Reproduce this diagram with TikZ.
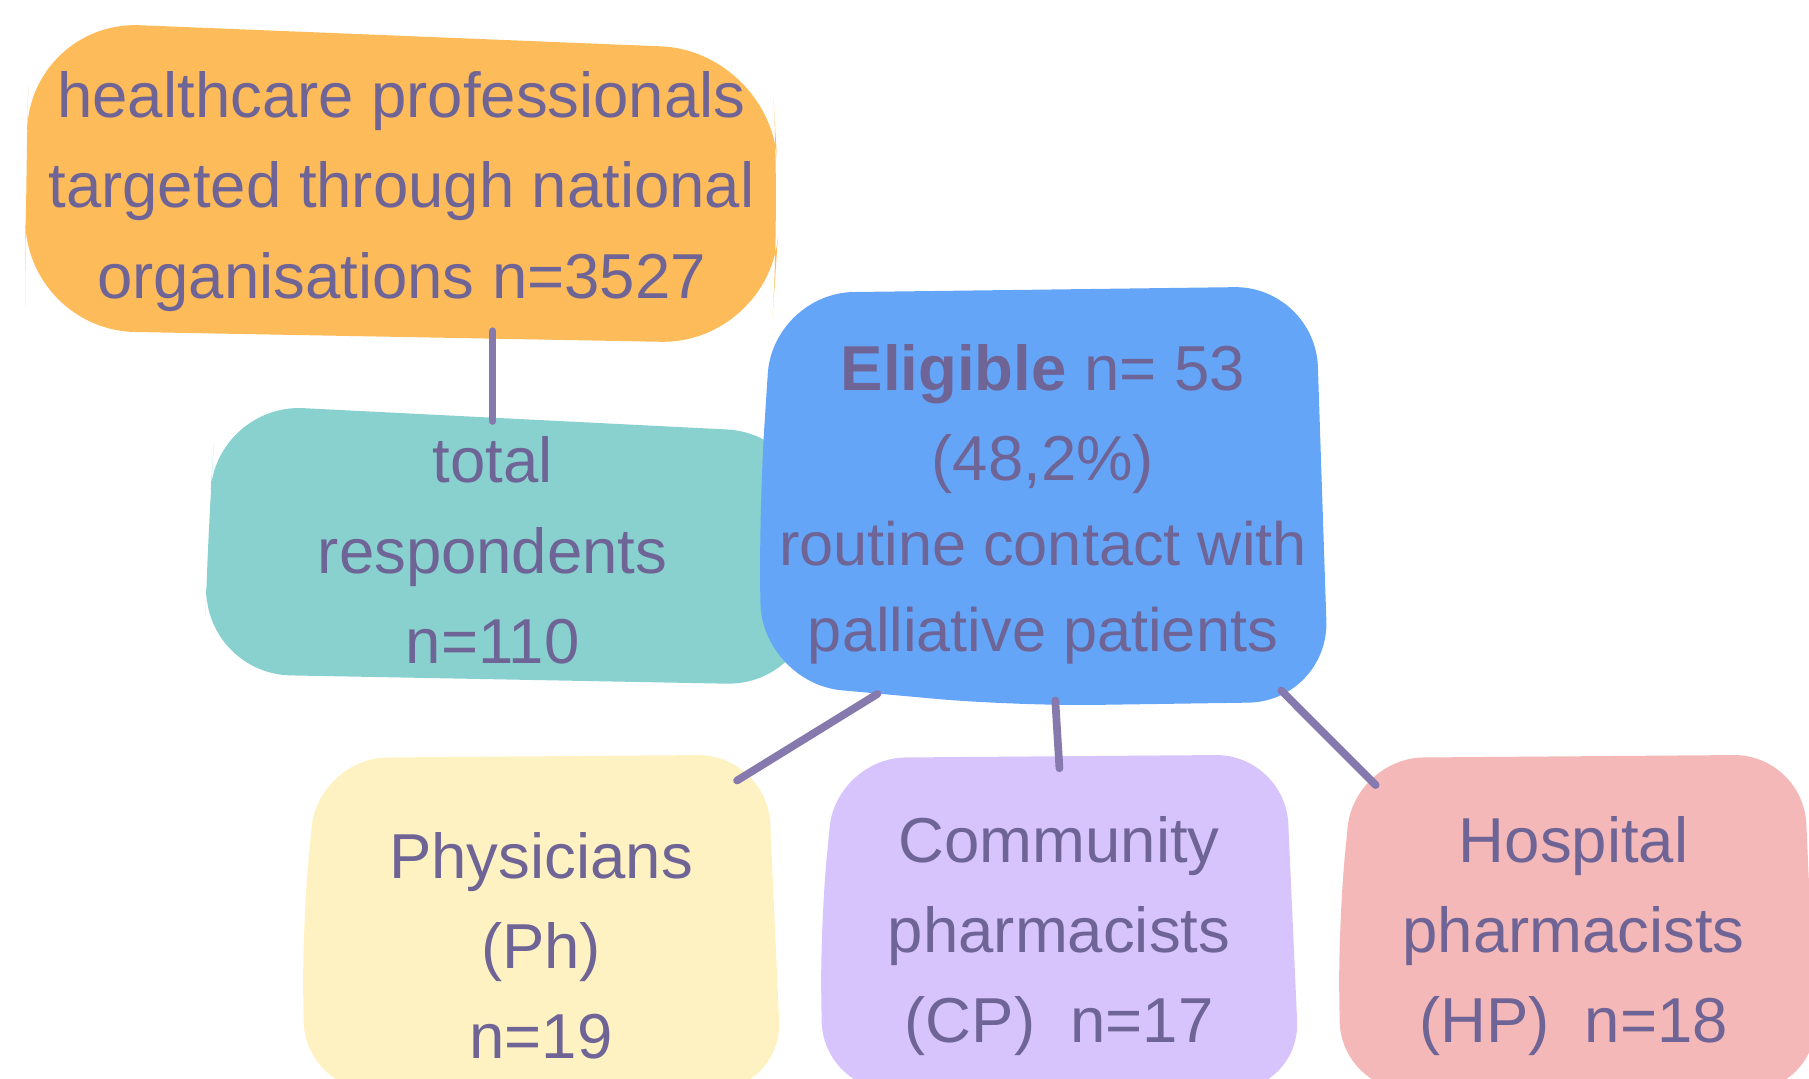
\documentclass[tikz,border=0pt]{standalone}
\usepackage{fontspec}
\setmainfont{Liberation Sans}
\usetikzlibrary{calc}
\definecolor{inkpurple}{HTML}{6E6496}
\definecolor{linkpurple}{HTML}{8579AE}
\definecolor{targetfill}{HTML}{FDBB5A}
\definecolor{respondfill}{HTML}{88D1CE}
\definecolor{eligiblefill}{HTML}{64A5F8}
\definecolor{physfill}{HTML}{FFF2C2}
\definecolor{commfill}{HTML}{D7C4FC}
\definecolor{hospfill}{HTML}{F4B8B8}
\newcommand\boxfont{\fontsize{15.65pt}{22.2pt}\selectfont}
\newcommand\smallerfont{\fontsize{15.1pt}{21pt}\selectfont}
\newcommand\groupblob[2]{%
    % #1: fill colour
    % #2: left x
    \fill[#1,rounded corners=.6cm] ({#2},800) -- ({#2+14},657) -- ({#2+403},654)
        -- ({#2+416},945) -- ({#2+2},945) -- cycle;
}

\begin{document}
\begin{tikzpicture}[
        x=0.01cm,y=-0.01cm,
        boxtext/.style={text=inkpurple,font=\boxfont,align=center,inner sep=0pt,outer sep=0pt},
        connector/.style={draw=linkpurple,line width=1.9pt,line cap=round,
            shorten <=-.05cm,shorten >=-.05cm},
    ]
    \useasboundingbox (0,0) rectangle (1568,935);
    \clip (0,0) rectangle (1568,935);

    % blobs
    \fill[targetfill,rounded corners=.95cm] (22,170) -- (26,18) -- (668,44) -- (676,180)
        -- (668,298) -- (22,286) -- cycle;
    \fill[respondfill,rounded corners=.75cm] (180,460) -- (188,350) -- (705,376)
        -- (705,594) -- (177,584) -- cycle;
    \fill[eligiblefill,rounded corners=.7cm] (658,440) -- (670,254) -- (1140,248)
        -- (1152,608) -- (880,612) -- (660,592) -- cycle;
    \groupblob{physfill}{262}
    \groupblob{commfill}{711}
    \groupblob{hospfill}{1160}

    % texts
    \node[boxtext,minimum width=6.5cm,minimum height=2.72cm] (targeted) at (348,166)
        {healthcare professionals\\targeted through national\\organisations n=3527};
    \node[boxtext,minimum width=5cm,minimum height=2.4cm] (respondents) at (427,477)
        {total\\respondents\\n=110};
    \node[boxtext,minimum width=4.92cm,minimum height=3.6cm] (eligible) at (904,437)
        {\textbf{Eligible} n= 53\\(48,2\%)\\[-1.2pt]{\smallerfont routine contact with}\\[-1.2pt]{\smallerfont palliative patients}};
    \node[boxtext,minimum width=4.14cm,minimum height=3.3cm] (physicians) at (469,820)
        {Physicians\\(Ph)\\n=19};
    \node[boxtext,minimum width=4.14cm,minimum height=3.06cm] (community) at (918,811)
        {Community\\pharmacists\\(CP)\ \ n=17};
    \node[boxtext,minimum width=4.08cm,minimum height=3.06cm] (hospital) at (1364,811)
        {Hospital\\pharmacists\\(HP)\ \ n=18};

    % connectors
    \draw[connector] ([yshift=.1cm]targeted.south -| respondents.north) -- ([yshift=-.03cm]respondents.north);
    \draw[connector] ($(eligible.south west)!.2!(eligible.south east)+(0,-13)$)
        -- ([xshift=-.33cm,yshift=-.19cm]physicians.north east);
    \draw[connector] ([xshift=.11cm,yshift=.05cm]eligible.south) -- ([yshift=-.03cm]community.north);
    \draw[connector] ([xshift=-.36cm,yshift=.15cm]eligible.south east)
        -- ([xshift=.29cm,yshift=-.19cm]hospital.north west);
\end{tikzpicture}
\end{document}
